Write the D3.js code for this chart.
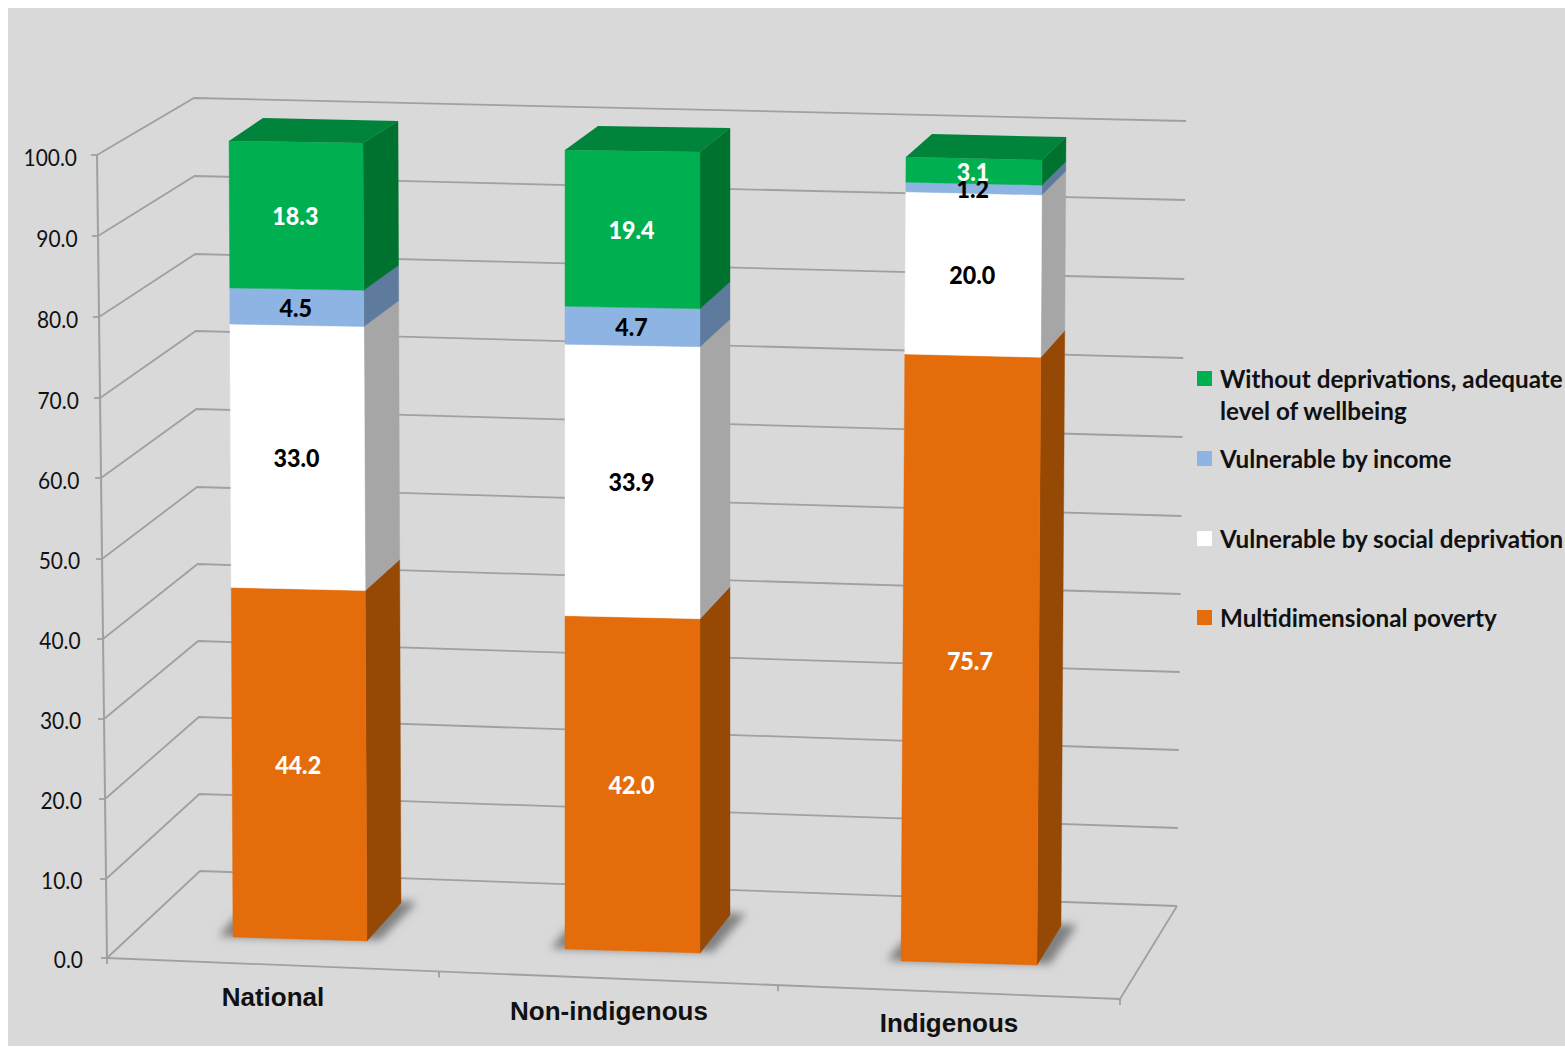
<!DOCTYPE html>
<html><head><meta charset="utf-8">
<script src="https://cdn.jsdelivr.net/npm/d3@7"></script>
<style>html,body{margin:0;padding:0;background:#fff}svg{display:block}</style>
</head><body><div id="chart"></div>
<script>
// ---- data ----
const categories = ["National", "Non-indigenous", "Indigenous"];
const seriesNames = ["Multidimensional poverty", "Vulnerable by social deprivation", "Vulnerable by income", "Without deprivations, adequate level of wellbeing"];
const multidimensionalPoverty = [44.2, 42.0, 75.7];
const vulnerableSocial = [33.0, 33.9, 20.0];
const vulnerableIncome = [4.5, 4.7, 1.2];
const withoutDeprivations = [18.3, 19.4, 3.1];
const tickLabels = d3.range(0, 101, 10);

const allSeries = [multidimensionalPoverty, vulnerableSocial, vulnerableIncome, withoutDeprivations];
const frontFill = ["#E56C0B", "#FFFFFF", "#8DB4E2", "#00B050"];
const sideFill = ["#964805", "#A6A6A6", "#5E7A9C", "#007230"];
const labelFill = ["#fff", "#000", "#000", "#fff"];
const topFill = "#00833A";

const W = 1565, H = 1047;
const svg = d3.select("#chart").append("svg").attr("width", W).attr("height", H);
const defs = svg.append("defs");
defs.append("filter").attr("id", "blur").attr("x", "-30%").attr("y", "-30%").attr("width", "160%").attr("height", "160%")
  .append("feGaussianBlur").attr("stdDeviation", 4);
svg.append("rect").attr("x", 8).attr("y", 8).attr("width", W - 8).attr("height", 1038).attr("fill", "#D9D9D9");

// value -> screen scales along the vertical edges of the chart box (slight perspective, hence piecewise)
const wallFrontY = d3.scaleLinear().domain(tickLabels).range([958, 879, 799, 719, 639, 559, 478, 398, 317, 236, 155]);
const wallBackY = d3.scaleLinear().domain(tickLabels).range([871, 794, 717, 641, 564, 487, 409, 331, 254, 176, 98]);
const wallRightY = d3.scaleLinear().domain(tickLabels).range([906, 828, 750, 672, 594, 516, 437, 358, 279, 200, 121]);
const shape = d3.scaleLinear().domain([958, 155]).range([0, 1]);
const v = (a, b) => { const s = d3.scaleLinear().domain([0, 1]).range([a, b]); return t => s(shape(wallFrontY(t))); };
const wallFrontX = v(107, 97), wallBackX = v(200, 194), wallRightX = v(1177, 1186);
const tickLabelRight = v(83, 77);

const gridColor = "#A0A0A0";
const grid = svg.append("g").attr("fill", "none").attr("stroke", gridColor).attr("stroke-width", 1.8);
grid.selectAll("polyline.g").data(tickLabels).join("polyline").attr("class", "g")
  .attr("points", t => [[wallFrontX(t), wallFrontY(t)], [wallBackX(t), wallBackY(t)], [wallRightX(t), wallRightY(t)]].join(" "));

// vertical axis, floor edge
grid.append("line").attr("x1", wallFrontX(0)).attr("y1", wallFrontY(0)).attr("x2", wallFrontX(100)).attr("y2", wallFrontY(100)).attr("stroke-width", 2);
grid.selectAll("line.t").data(tickLabels).join("line").attr("class", "t")
  .attr("x1", t => wallFrontX(t) - 6).attr("x2", t => wallFrontX(t))
  .attr("y1", t => wallFrontY(t)).attr("y2", t => wallFrontY(t));
const floorCorner = [1120, 999];
const edgeX = d3.scaleLinear().domain([0, 1, 2, 3]).range([107, 439, 778, floorCorner[0]]);
const edgeY = d3.scaleLinear().domain([107, floorCorner[0]]).range([958, floorCorner[1]]);
grid.append("polyline").attr("points", [[wallFrontX(0), wallFrontY(0)], floorCorner, [wallRightX(0), wallRightY(0)]].join(" "));
grid.selectAll("line.x").data(d3.range(4)).join("line").attr("class", "x")
  .attr("x1", i => edgeX(i)).attr("x2", i => edgeX(i))
  .attr("y1", i => edgeY(edgeX(i))).attr("y2", i => edgeY(edgeX(i)) + 6);

const LATO = "Lato, Carlito, Calibri, sans-serif";
function squeezed(sel, x, y, k) {
  return sel.attr("transform", `translate(${x},${y}) scale(${k},1)`);
}
const axisG = svg.append("g").attr("font-family", LATO).attr("font-size", 23).attr("fill", "#111").attr("text-anchor", "end");
tickLabels.forEach(t => {
  squeezed(axisG.append("text").text(t.toFixed(1)), tickLabelRight(t), wallFrontY(t) + 10 + (t > 50 ? 1 : 0), 0.91);
});

// bars: each corner edge has its own pair of value scales (3-D projection)
const barGeom = [
  { fl:[233,937,229,141], fr:[367,941,363,143], br:[401,903,398,121], bl:[263,118] },
  { fl:[565,949,565,150], fr:[700,953,700,152], br:[730,915,730,128], bl:[598,126] },
  { fl:[901,961,906,157], fr:[1037,965,1042,160], br:[1061,926,1066,137], bl:[932,134] }
];
const edge = e => ({ x: v(e[0], e[2]), y: v(e[1], e[3]) });

const shadowG = svg.append("g").attr("filter", "url(#blur)").attr("fill", "#808080");
const barsG = svg.append("g");
const labelsG = svg.append("g").attr("font-family", LATO).attr("font-weight", 900).attr("font-size", 24.5).attr("text-anchor", "middle");

categories.forEach((cat, i) => {
  const g = barGeom[i], FL = edge(g.fl), FR = edge(g.fr), BR = edge(g.br);
  // floor shadow
  shadowG.append("polygon").attr("points", [
    [FL.x(0) - 14, FL.y(0) - 1], [FL.x(0) + 2, FL.y(0) - 20], [BR.x(0), BR.y(0) - 2],
    [BR.x(0) + 16, BR.y(0) - 1], [FR.x(0) + 13, FR.y(0) - 1], [FL.x(0), FL.y(0)]
  ].join(" "));
  let base = 0;
  allSeries.forEach((vals, s) => {
    const a = base, b = base + vals[i];
    barsG.append("polygon").attr("fill", sideFill[s]).attr("stroke", sideFill[s]).attr("stroke-width", .4)
      .attr("points", [[FR.x(a), FR.y(a)], [BR.x(a), BR.y(a)], [BR.x(b), BR.y(b)], [FR.x(b), FR.y(b)]].join(" "));
    barsG.append("polygon").attr("fill", frontFill[s]).attr("stroke", frontFill[s]).attr("stroke-width", .4)
      .attr("points", [[FL.x(a), FL.y(a)], [FR.x(a), FR.y(a)], [FR.x(b), FR.y(b)], [FL.x(b), FL.y(b)]].join(" "));
    base = b;
  });
  barsG.append("polygon").attr("fill", topFill)
    .attr("points", [[FL.x(100), FL.y(100)], [FR.x(100), FR.y(100)], [BR.x(100), BR.y(100)], g.bl].join(" "));
  base = 0;
  allSeries.forEach((vals, s) => {
    const m = base + vals[i] / 2;
    const cx = (FL.x(m) + FR.x(m)) / 2, cy = (FL.y(m) + FR.y(m)) / 2;
    squeezed(labelsG.append("text").attr("fill", labelFill[s]).text(vals[i].toFixed(1)), cx - 1, cy + 9.5, 0.95);
    base += vals[i];
  });
});

// category labels
const catLabelX = [273, 609, 949], catLabelY = [1006, 1020, 1032];
svg.append("g").attr("font-family", "'Liberation Sans', Arial, sans-serif").attr("font-weight", 700).attr("font-size", 26)
  .attr("text-anchor", "middle").attr("fill", "#111")
  .selectAll("text").data(categories).join("text")
  .attr("x", (d, i) => catLabelX[i]).attr("y", (d, i) => catLabelY[i]).text(d => d);

// legend
const legendOrder = [3, 2, 1, 0];
const legendY = [371, 451, 531, 610];
const leg = svg.append("g").attr("font-family", LATO).attr("font-weight", 700).attr("font-size", 25).attr("fill", "#111");
legendOrder.forEach((s, k) => {
  leg.append("rect").attr("x", 1197).attr("y", legendY[k]).attr("width", 15).attr("height", 15).attr("fill", frontFill[s]);
  let lines = [seriesNames[s]];
  if (s === 3) lines = ["Without deprivations, adequate", "level of wellbeing"];
  lines.forEach((t, j) => {
    squeezed(leg.append("text").text(t), 1220, legendY[k] + 17 + j * 32, 0.97);
  });
});
</script></body></html>
